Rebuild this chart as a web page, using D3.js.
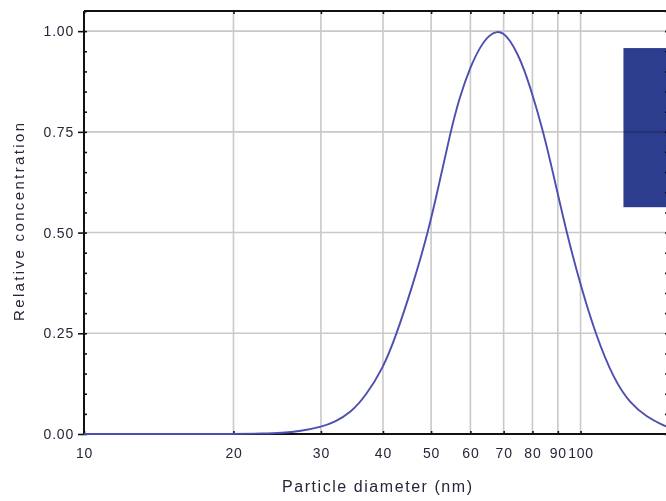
<!DOCTYPE html>
<html>
<head>
<meta charset="utf-8">
<script src="https://cdn.jsdelivr.net/npm/d3@7"></script>
<style>
  html, body { margin: 0; padding: 0; background: #fff; }
  svg { display: block; }
  text { font-family: "Liberation Sans", Arial, sans-serif; fill: #26263a; }
</style>
</head>
<body>
<svg id="chart" width="666" height="501"></svg>
<script>
// ---- data ----
const diameters = [10, 15, 20, 23, 25, 27.3, 30, 32, 34.4, 37, 40, 42.4, 46, 49.3, 52, 54.6, 57, 60, 62.8, 65.5, 67.9, 70, 72, 74.6, 77, 80, 83.7, 87, 90, 94.7, 100, 107, 116.7, 126, 136, 147, 150];
const concentration = [0, 0, 0, 0.001, 0.0025, 0.007, 0.017, 0.03, 0.052, 0.096, 0.163, 0.24, 0.372, 0.5, 0.625, 0.745, 0.835, 0.912, 0.962, 0.991, 1.0, 0.995, 0.978, 0.945, 0.905, 0.843, 0.76, 0.675, 0.595, 0.478, 0.37, 0.25, 0.135, 0.075, 0.042, 0.021, 0.018];
const xTicks = [10, 20, 30, 40, 50, 60, 70, 80, 90, 100];
const xGrid = [20, 30, 40, 50, 60, 70, 80, 90, 100];
const yTicks = [0, 0.25, 0.5, 0.75, 1.0];
const yMinorTicks = d3.range(0, 1.051, 0.05);
const xDomain = [10, 150];
const yDomain = [0, 1.05];
// covering box (in data units: x from 122 nm to right edge, y 0.563..0.958)
const boxX0 = [122];
const boxY = [0.563, 0.958];

const svg = d3.select("#chart");
const L = 84, R = 668, T = 11, B = 434;

const x = d3.scaleLog().domain(xDomain).range([L, R]);
const y = d3.scaleLinear().domain(yDomain).range([B, T]);

// gridlines
const grid = svg.append("g").attr("stroke", "#c9c9c9").attr("stroke-width", 1.6);
grid.selectAll("line.v").data(xGrid).join("line")
  .attr("x1", d => x(d)).attr("x2", d => x(d)).attr("y1", T).attr("y2", B);
grid.selectAll("line.h").data(yTicks.filter(d => d > 0)).join("line")
  .attr("x1", L).attr("x2", R).attr("y1", d => y(d)).attr("y2", d => y(d));

// axes
function styleAxis(g) {
  g.select(".domain").remove();
  g.selectAll("line").attr("stroke", "#111").attr("stroke-width", 1.6);
  g.selectAll("text").attr("fill", "#26263a")
    .style("font-size", "14px").style("letter-spacing", "0.8px")
    .style("font-family", '"Liberation Sans", Arial, sans-serif');
}

// bottom
svg.append("g").attr("transform", `translate(0,${B})`)
  .call(d3.axisBottom(x).tickValues(xTicks).tickSizeInner(-3).tickSizeOuter(0)
    .tickPadding(14).tickFormat(d => String(d)))
  .call(styleAxis);
// top
svg.append("g").attr("transform", `translate(0,${T})`)
  .call(d3.axisTop(x).tickValues(xTicks).tickSizeInner(-3).tickSizeOuter(0).tickFormat(""))
  .call(styleAxis);
// left major (outward) with labels
svg.append("g").attr("transform", `translate(${L},0)`)
  .call(d3.axisLeft(y).tickValues(yTicks).tickSizeInner(6).tickSizeOuter(0)
    .tickPadding(4).tickFormat(d3.format(".2f")))
  .call(styleAxis);
// left minor (inward)
svg.append("g").attr("transform", `translate(${L},0)`)
  .call(d3.axisLeft(y).tickValues(yMinorTicks).tickSizeInner(-3).tickSizeOuter(0).tickFormat(""))
  .call(styleAxis);
// right minor (inward)
svg.append("g").attr("transform", `translate(${R},0)`)
  .call(d3.axisRight(y).tickValues(yMinorTicks).tickSizeInner(-3).tickSizeOuter(0).tickFormat(""))
  .call(styleAxis);

// frame lines
const frame = svg.append("g").attr("stroke", "#111").attr("stroke-width", 2);
frame.append("line").attr("x1", L).attr("x2", R).attr("y1", B).attr("y2", B);
frame.append("line").attr("x1", L).attr("x2", R).attr("y1", T).attr("y2", T);
frame.append("line").attr("x1", L).attr("x2", L).attr("y1", T).attr("y2", B);
frame.append("line").attr("x1", R).attr("x2", R).attr("y1", T).attr("y2", B);

// curve
const pts = diameters.map((d, i) => [d, concentration[i]]);
const line = d3.line().x(d => x(d[0])).y(d => y(d[1])).curve(d3.curveBasis);
svg.append("path").datum(pts)
  .attr("fill", "none").attr("stroke", "#4c4fb0").attr("stroke-width", 1.9)
  .attr("d", line);

// covering box
svg.append("rect")
  .attr("x", x(boxX0[0])).attr("y", y(boxY[1]))
  .attr("width", R - x(boxX0[0])).attr("height", y(boxY[0]) - y(boxY[1]))
  .attr("fill", "#2d3d8d").style("mix-blend-mode", "multiply");

// titles
svg.append("text")
  .attr("x", 377).attr("y", 492).attr("text-anchor", "middle")
  .attr("textLength", 190).attr("lengthAdjust", "spacing")
  .style("font-size", "16px")
  .text("Particle diameter (nm)");
svg.append("text")
  .attr("transform", "translate(24,222) rotate(-90)").attr("text-anchor", "middle")
  .attr("textLength", 198).attr("lengthAdjust", "spacing")
  .style("font-size", "15px")
  .text("Relative concentration");
</script>
</body>
</html>
